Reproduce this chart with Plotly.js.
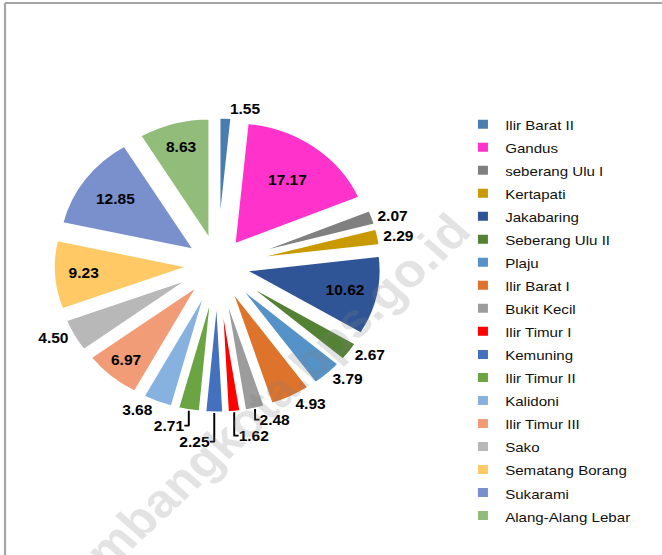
<!DOCTYPE html>
<html>
<head>
<meta charset="utf-8">
<script src="https://cdn.plot.ly/plotly-3.0.1.min.js"></script>
<style>
html,body{margin:0;padding:0;background:#fff;overflow:hidden;}
#chart{width:596px;height:555px;transform:scaleX(1.1107);transform-origin:0 0;}
</style>
</head>
<body>
<div id="chart"></div>
<script>
var categories = ["Ilir Barat II","Gandus","seberang Ulu I","Kertapati","Jakabaring","Seberang Ulu II","Plaju","Ilir Barat I","Bukit Kecil","Ilir Timur I","Kemuning","Ilir Timur II","Kalidoni","Ilir Timur III","Sako","Sematang Borang","Sukarami","Alang-Alang Lebar"];
var values = [1.55,17.17,2.07,2.29,10.62,2.67,3.79,4.93,2.48,1.62,2.25,2.71,3.68,6.97,4.50,9.23,12.85,8.63];
var colors = ["#4A7DAE","#FF33CC","#808080","#C99A00","#2F5597","#548235","#5592C8","#DE732B","#9C9C9C","#FF0000","#4470C0","#6AA443","#87B2E0","#F19C76","#B8B8B8","#FFCA66","#7A90CD","#92BC7A"];
var labelPos = ["outside","inside","outside","outside","inside","outside","outside","outside","outside","outside","outside","outside","outside","inside","outside","inside","inside","inside"];
var watermark = "palembangkota.bps.go.id";

var legendLabels = categories.map(function (c) {
  return '<span style="font-size:13.6px">' + c + '</span>';
});

var trace = {
  type: "pie",
  labels: legendLabels,
  values: values,
  sort: false,
  direction: "clockwise",
  rotation: 0,
  marker: {colors: colors, line: {color: "#ffffff", width: 3}},
  pull: 0.2,
  texttemplate: "%{value:.2f}",
  textposition: labelPos,
  insidetextorientation: "horizontal",
  textfont: {family: "Liberation Sans, Arial, sans-serif", size: 14, color: "#000", weight: "bold"},
  outsidetextfont: {family: "Liberation Sans, Arial, sans-serif", size: 14, color: "#000", weight: "bold"},
  domain: {x: [0.0802, 0.5768], y: [0.2559, 0.7892]},
  hoverinfo: "value",
  showlegend: true
};

var layout = {
  width: 596, height: 555,
  margin: {l: 0, r: 0, t: 0, b: 0},
  paper_bgcolor: "#ffffff",
  font: {family: "Liberation Sans, Arial, sans-serif", color: "#000"},
  showlegend: true,
  legend: {
    x: 0.696, xanchor: "left", y: 0.806, yanchor: "top",
    font: {size: 15.4, family: "Liberation Sans, Arial, sans-serif", color: "#111"},
    bgcolor: "rgba(0,0,0,0)", borderwidth: 0
  },
  shapes: [
    {type: "line", xref: "paper", yref: "paper", x0: 0.0076, x1: 0.0076, y0: 0, y1: 0.9946, line: {color: "#A6A6A6", width: 2}},
    {type: "line", xref: "paper", yref: "paper", x0: 0.0076, x1: 1, y0: 0.9946, y1: 0.9946, line: {color: "#A6A6A6", width: 2}}
  ],
  annotations: [
    {text: watermark, xref: "paper", yref: "paper", x: 0.364, y: 0.236, xanchor: "center", yanchor: "middle",
     showarrow: false, textangle: -45.8,
     font: {family: "Liberation Sans, Arial, sans-serif", size: 47, weight: "bold", color: "rgba(128,128,128,0.22)"}}
  ]
};

Plotly.newPlot("chart", [trace], layout, {displayModeBar: false, staticPlot: true});
</script>
</body>
</html>
